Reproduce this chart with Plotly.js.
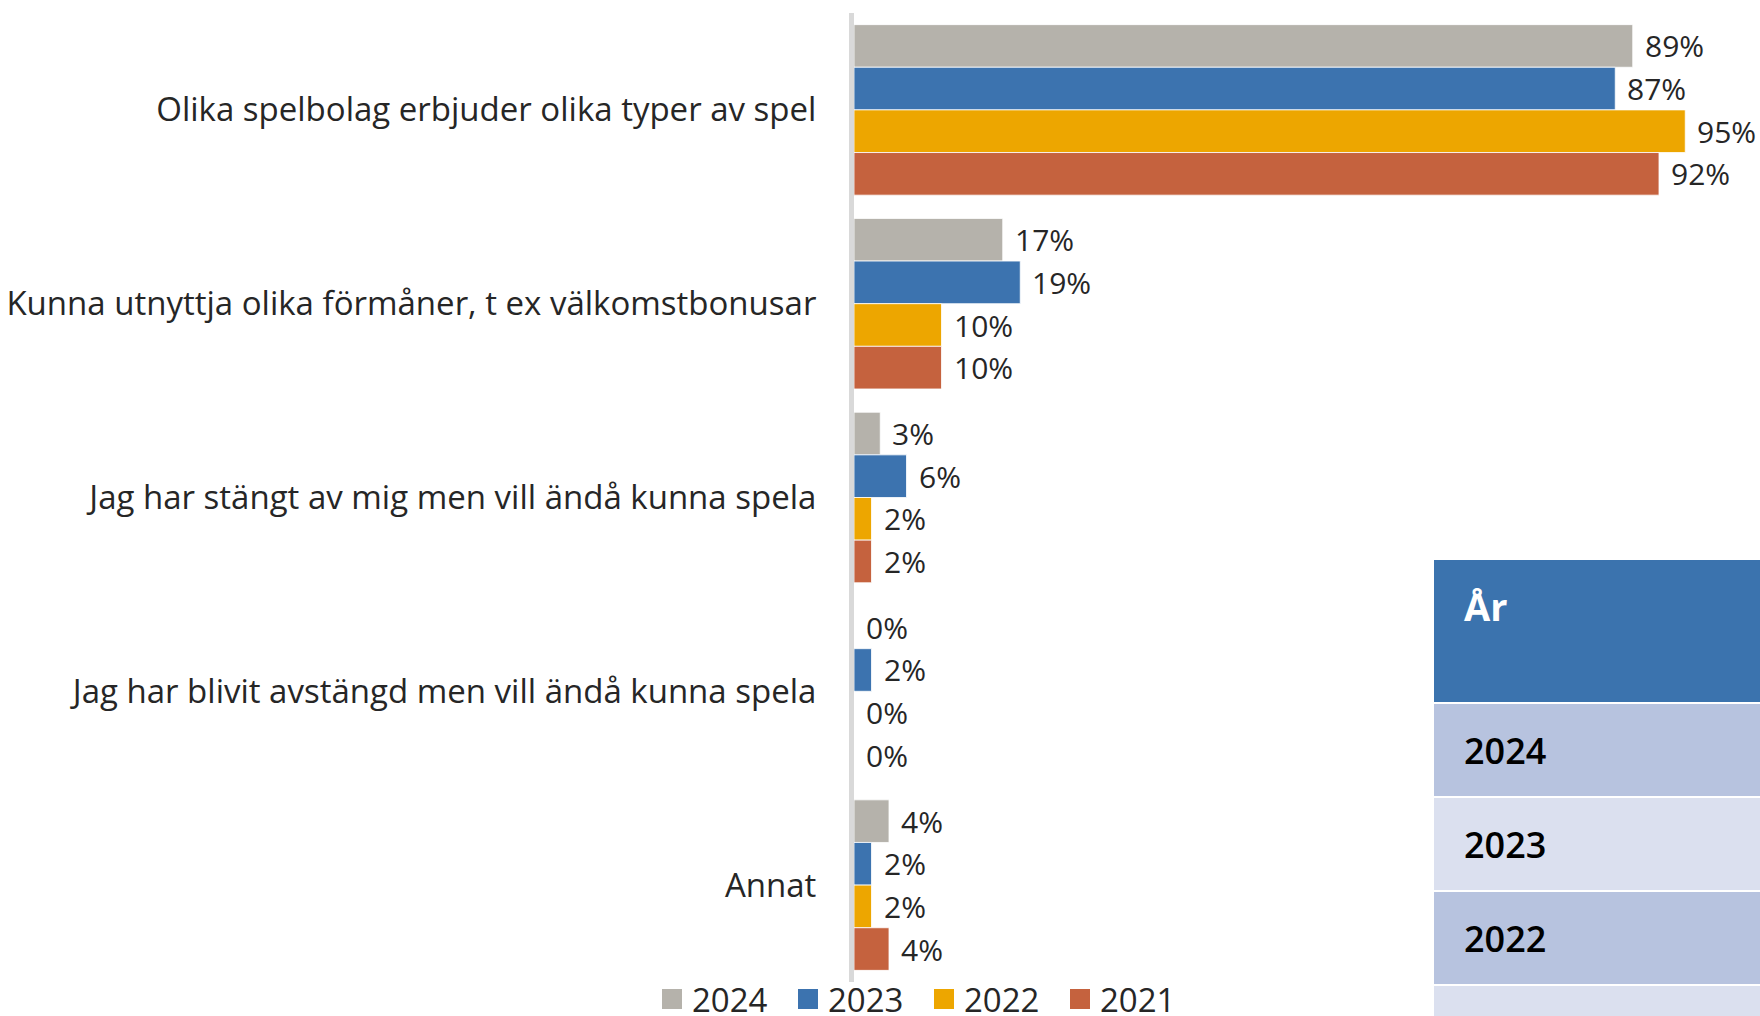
<!DOCTYPE html>
<html>
<head>
<meta charset="utf-8">
<script src="https://cdn.plot.ly/plotly-3.0.1.min.js"></script>
<style>html,body{margin:0;padding:0;background:#fff;}#chart{width:1760px;height:1016px;}</style>
</head>
<body>
<div id="chart"></div>
<script>
const categories = [
  "Olika spelbolag erbjuder olika typer av spel",
  "Kunna utnyttja olika förmåner, t ex välkomstbonusar",
  "Jag har stängt av mig men vill ändå kunna spela",
  "Jag har blivit avstängd men vill ändå kunna spela",
  "Annat"
];
const years = ["2024", "2023", "2022", "2021"];
const values2024 = [89, 17, 3, 0, 4];
const values2023 = [87, 19, 6, 2, 2];
const values2022 = [95, 10, 2, 0, 2];
const values2021 = [92, 10, 2, 0, 4];
const tableHeader = "År";
const tableYears = ["2024", "2023", "2022", "2021"];

const seriesValues = [values2024, values2023, values2022, values2021];
const colors = ["#B5B2AB", "#3C73AF", "#EDA600", "#C5623E"];
const FONT = "Open Sans, Noto Sans, sans-serif";
const TXT = "#262626";

const W = 1760, H = 1016;
const M = {l: 854, r: 0, t: 13, b: 34, autoexpand: false};
const PW = W - M.l - M.r, PH = H - M.t - M.b;
const bargap = 0.12;
const xmax = PW / 8.75;

// pixel -> paper helpers for the overlay table
const px = v => (v - M.l) / PW;
const py = v => (H - M.b - v) / PH;

const traces = [];
years.forEach((yr, j) => {
  traces.push({
    type: "bar",
    orientation: "h",
    name: yr,
    y: categories,
    x: seriesValues[j],
    marker: {color: colors[j], line: {color: "rgba(255,255,255,0.8)", width: 1}},
    showlegend: false,
    hoverinfo: "x+name"
  });
});
// legend entries
years.forEach((yr, j) => {
  traces.push({
    type: "scatter",
    mode: "markers",
    name: yr,
    x: [null], y: [null],
    marker: {symbol: "square", size: 16, color: colors[j], line: {color: colors[j], width: 4}},
    showlegend: true,
    hoverinfo: "skip"
  });
});

const annotations = [];
const bw = (1 - bargap) / years.length;
seriesValues.forEach((vals, j) => {
  vals.forEach((v, i) => {
    annotations.push({
      x: v, y: i + (j - (years.length - 1) / 2) * bw,
      xref: "x", yref: "y",
      text: v + "%",
      showarrow: false,
      xanchor: "left", yanchor: "middle",
      xshift: 10,
      font: {family: FONT, size: 30, color: TXT}
    });
  });
});

// overlay table (partially visible, bottom-right)
const shapes = [];
const tblLeft = 1434, tblRight = 1800;
shapes.push({type: "rect", xref: "paper", yref: "paper", x0: px(tblLeft), x1: px(tblRight), y0: py(702), y1: py(560),
  fillcolor: "#3B73AE", line: {width: 0}, layer: "above"});
annotations.push({xref: "paper", yref: "paper", x: px(1462), y: py(606), xanchor: "left", yanchor: "middle",
  text: tableHeader, showarrow: false, font: {family: FONT, size: 38, color: "#ffffff", weight: 700}});
const rowTop = 704, rowH = 92, rowGap = 2;
const rowFills = ["#B7C3DF", "#DBE0EF"];
tableYears.forEach((t, k) => {
  const y0 = rowTop + k * (rowH + rowGap);
  shapes.push({type: "rect", xref: "paper", yref: "paper", x0: px(tblLeft), x1: px(tblRight),
    y0: py(y0 + rowH), y1: py(y0), fillcolor: rowFills[k % 2], line: {width: 0}, layer: "above"});
  annotations.push({xref: "paper", yref: "paper", x: px(1462), y: py(y0 + rowH / 2), xanchor: "left", yanchor: "middle",
    text: t, showarrow: false, font: {family: FONT, size: 36, color: "#000000", weight: 600}});
});

const layout = {
  width: W, height: H,
  margin: M,
  paper_bgcolor: "#ffffff", plot_bgcolor: "#ffffff",
  barmode: "group", bargap: bargap, bargroupgap: 0,
  font: {family: FONT, color: TXT},
  xaxis: {range: [0, xmax], showgrid: false, zeroline: false, showticklabels: false, showline: false, ticks: "", fixedrange: true},
  yaxis: {type: "category", autorange: "reversed", showgrid: false, zeroline: false, automargin: false,
    showline: true, linecolor: "#D9D9D9", linewidth: 5, ticks: "", ticklabelstandoff: 26,
    tickfont: {family: FONT, size: 33, color: TXT}, fixedrange: true},
  legend: {orientation: "h", xref: "container", yref: "container", x: 652 / W, y: 1 - 999 / H,
    xanchor: "left", yanchor: "middle", entrywidth: 91, entrywidthmode: "pixels",
    font: {family: FONT, size: 33, color: TXT}, bgcolor: "rgba(0,0,0,0)", borderwidth: 0, itemclick: false},
  annotations: annotations,
  shapes: shapes
};

Plotly.newPlot("chart", traces, layout, {displayModeBar: false, staticPlot: true});
</script>
</body>
</html>
